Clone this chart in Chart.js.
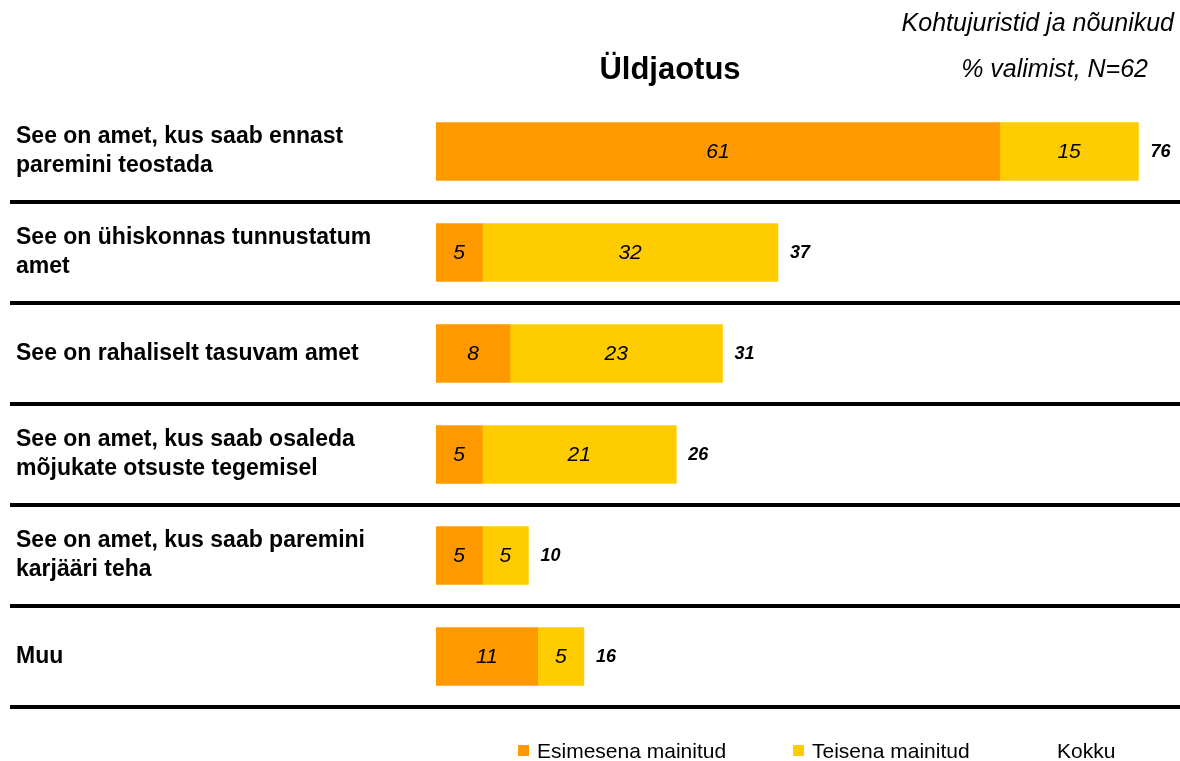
<!DOCTYPE html>
<html>
<head>
<meta charset="utf-8">
<script src="https://cdn.jsdelivr.net/npm/chart.js@4/dist/chart.umd.min.js"></script>
<style>
    html, body { margin: 0; padding: 0; background: #fff; }
    #wrap { position: relative; width: 1180px; height: 761px; }
</style>
</head>
<body>
<div id="wrap"><canvas id="chart" width="1180" height="761"></canvas></div>
<script>
const categories = [
    ['See on amet, kus saab ennast', 'paremini teostada'],
    ['See on ühiskonnas tunnustatum', 'amet'],
    'See on rahaliselt tasuvam amet',
    ['See on amet, kus saab osaleda', 'mõjukate otsuste tegemisel'],
    ['See on amet, kus saab paremini', 'karjääri teha'],
    'Muu'
];
const firstMentioned = [61, 5, 8, 5, 5, 11];
const secondMentioned = [15, 32, 23, 21, 5, 5];
const totals = [76, 37, 31, 26, 10, 16];
const seriesNames = ['Esimesena mainitud', 'Teisena mainitud', 'Kokku'];

const FONT = "'Liberation Sans', Arial, sans-serif";
const ORANGE = '#FF9900';
const YELLOW = '#FFCC00';

// text on top of the chart: titles, values in bars, totals, legend
const overlay = {
    id: 'overlay',
    afterDatasetsDraw(chart) {
        const ctx = chart.ctx;
        const x = chart.scales.x;
        ctx.save();
        ctx.fillStyle = '#000';
        ctx.textBaseline = 'middle';

        // values inside the bars
        ctx.font = 'italic 21px ' + FONT;
        ctx.textAlign = 'center';
        [0, 1].forEach(di => {
            chart.getDatasetMeta(di).data.forEach((bar, i) => {
                const v = chart.data.datasets[di].data[i];
                ctx.fillText(String(v), (bar.x + bar.base) / 2, bar.y + 1);
            });
        });

        // totals after the bars
        ctx.font = 'italic bold 18px ' + FONT;
        ctx.textAlign = 'left';
        const meta = chart.getDatasetMeta(1);
        totals.forEach((t, i) => {
            ctx.fillText(String(t), x.getPixelForValue(t) + 12, meta.data[i].y + 1);
        });
        ctx.restore();
    },
    afterDraw(chart) {
        const ctx = chart.ctx;
        ctx.save();
        ctx.fillStyle = '#000';
        ctx.textBaseline = 'alphabetic';

        ctx.font = 'bold 31px ' + FONT;
        ctx.textAlign = 'center';
        ctx.fillText('Üldjaotus', 670, 79);

        ctx.font = 'italic 25px ' + FONT;
        ctx.textAlign = 'right';
        ctx.fillText('Kohtujuristid ja nõunikud', 1174, 31);
        ctx.fillText('% valimist, N=62', 1148, 77);

        // legend
        const legendX = [518, 793, 1038];
        const colors = [ORANGE, YELLOW, 'rgba(0,0,0,0)'];
        ctx.font = '21px ' + FONT;
        ctx.textAlign = 'left';
        ctx.textBaseline = 'middle';
        seriesNames.forEach((name, i) => {
            ctx.fillStyle = colors[i];
            ctx.fillRect(legendX[i], 745, 11, 11);
            ctx.fillStyle = '#000';
            ctx.fillText(name, legendX[i] + 19, 752);
        });
        ctx.restore();
    }
};

new Chart(document.getElementById('chart'), {
    type: 'bar',
    data: {
        labels: categories,
        datasets: [
            { label: seriesNames[0], data: firstMentioned, backgroundColor: ORANGE },
            { label: seriesNames[1], data: secondMentioned, backgroundColor: YELLOW }
        ]
    },
    options: {
        indexAxis: 'y',
        responsive: false,
        animation: false,
        events: [],
        layout: { padding: { top: 101, bottom: 54, left: 16, right: 0 } },
        datasets: {
            bar: { barThickness: 58, borderWidth: 0 }
        },
        plugins: {
            legend: { display: false },
            tooltip: { enabled: false },
            title: { display: false }
        },
        scales: {
            x: {
                stacked: true,
                min: 0,
                max: 80.5,
                display: false
            },
            y: {
                stacked: true,
                border: { display: false },
                afterFit(scale) { scale.width = 420; },
                grid: {
                    offset: true,
                    drawOnChartArea: true,
                    drawTicks: true,
                    tickLength: 426,
                    lineWidth: 4,
                    tickWidth: 4,
                    color: ctx => ctx.index === 0 ? 'rgba(0,0,0,0)' : '#000',
                    tickColor: ctx => ctx.index === 0 ? 'rgba(0,0,0,0)' : '#000'
                },
                ticks: {
                    crossAlign: 'far',
                    color: '#000',
                    padding: 0,
                    font: { family: FONT, size: 23, weight: 'bold', lineHeight: 1.25 }
                }
            }
        }
    },
    plugins: [overlay]
});
</script>
</body>
</html>
